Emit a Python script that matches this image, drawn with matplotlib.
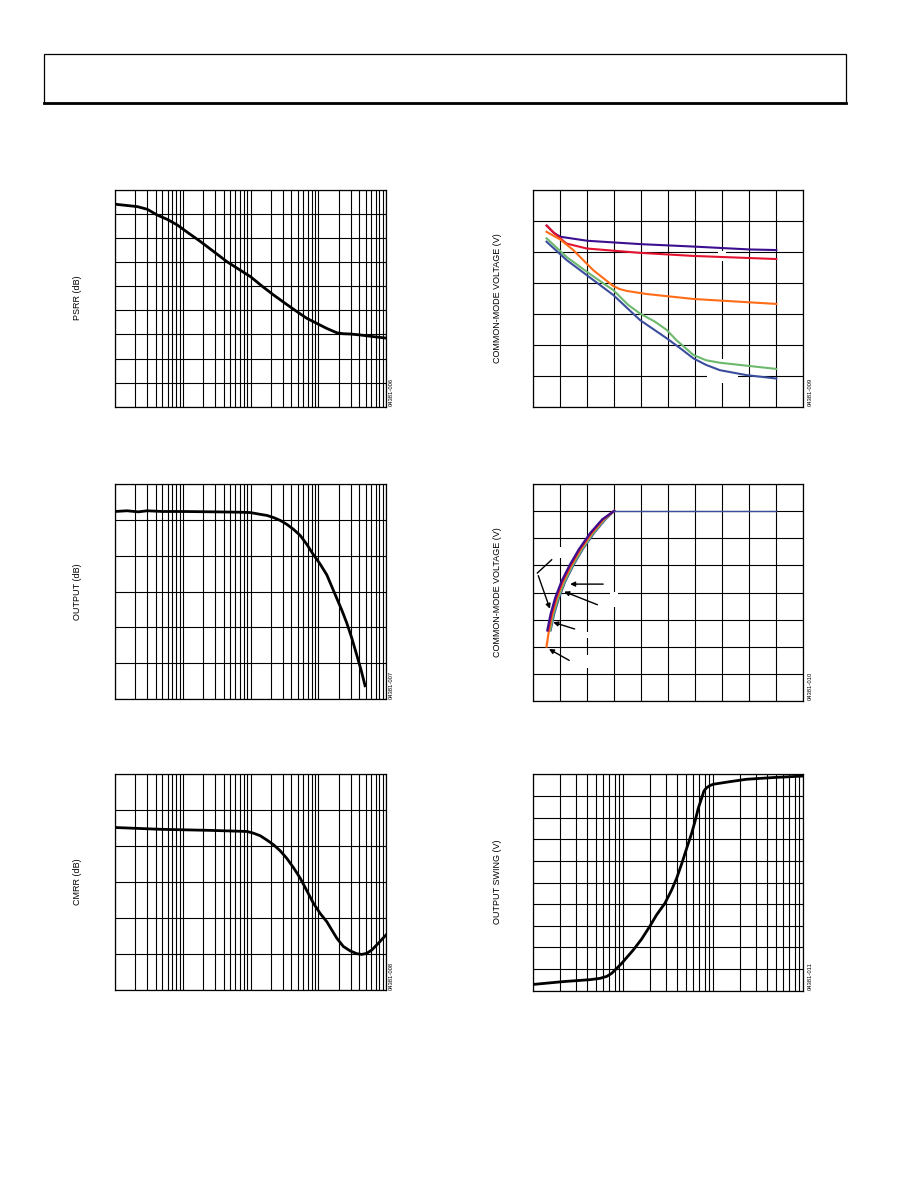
import matplotlib
matplotlib.use("Agg")
import matplotlib.pyplot as plt
from matplotlib.patches import Rectangle
from matplotlib.lines import Line2D

plt.rcParams['font.family'] = ['Liberation Sans', 'DejaVu Sans']

W, H = 918, 1188

# ---------------- data ----------------
# PSRR vs frequency (Hz), y in dB-like units (10 per grid division)
psrr_freq = [1e3, 2133, 2992, 4200, 5900, 8280, 12300, 18240, 28700, 45100, 67000, 1e5,
             1.476e5, 2.19e5, 3.26e5, 4.84e5, 6.79e5, 9.53e5, 1.337e6, 1.88e6, 2.35e6,
             2.95e6, 4.14e6, 6.5e6, 1e7]
psrr_val = [84.1, 83.1, 82.0, 79.6, 77.8, 75.5, 72.0, 68.6, 64.4, 60.2, 57.1, 54.0,
            50.1, 46.4, 42.9, 39.5, 36.7, 34.6, 32.5, 30.7, 30.3,
            30.2, 29.8, 29.1, 28.5]

# Output vs frequency
out_freq = [1e5, 1.5e5, 2.2e5, 3e5, 5e5, 1e6, 3e6, 7.08e6, 9.95e6, 1.396e7, 1.75e7, 2.19e7,
            2.75e7, 3.44e7, 4.32e7, 5.42e7, 6.79e7, 8.51e7, 1.067e8, 1.337e8, 1.585e8,
            1.88e8, 2.22e8, 2.64e8, 3.13e8, 3.70e8, 4.29e8, 4.91e8]
out_val = [52.4, 52.6, 52.3, 52.6, 52.4, 52.4, 52.3, 52.2, 52.1, 51.6, 51.3, 50.7,
           49.9, 48.8, 47.4, 45.7, 43.2, 40.3, 37.7, 34.7, 31.4,
           28.1, 24.9, 21.2, 17.0, 12.3, 8.1, 3.7]

# CMRR vs frequency
cmrr_freq = [1e4, 4.7e4, 2.56e5, 8.87e5, 1.114e6, 1.396e6, 1.75e6, 2.19e6, 2.75e6, 3.44e6,
             4.32e6, 5.42e6, 6.79e6, 8.51e6, 1.067e7, 1.337e7, 1.585e7, 1.88e7, 2.35e7,
             2.95e7, 3.70e7, 4.39e7, 5.19e7, 6.15e7, 7.71e7, 1e8]
cmrr_val = [45.2, 44.7, 44.4, 44.1, 43.6, 42.9, 41.7, 40.4, 38.7, 36.6,
            34.0, 31.1, 27.6, 24.1, 21.3, 19.0, 16.7, 14.4, 12.1,
            10.9, 10.1, 9.9, 10.2, 11.1, 13.0, 15.3]

# Common-mode voltage (top right), five traces
cm1_x = [0.5, 0.75, 1.0, 2.0, 4.0, 6.0, 8.0, 9.0]
cm1_y = [5.85, 5.62, 5.49, 5.36, 5.25, 5.17, 5.08, 5.06]
cm2_x = [0.49, 0.85, 1.23, 1.98, 3.95, 5.93, 9.0]
cm2_y = [5.85, 5.55, 5.27, 5.11, 4.97, 4.87, 4.77]
cm3_x = [0.49, 1.0, 1.48, 2.22, 2.96, 3.2, 3.46, 4.2, 5.93, 9.0]
cm3_y = [5.65, 5.40, 5.06, 4.41, 3.90, 3.80, 3.74, 3.64, 3.48, 3.32]
cm4_x = [0.49, 1.23, 1.98, 2.6, 2.96, 3.5, 3.95, 4.5, 4.94, 5.3, 5.93, 6.4, 6.91, 9.0]
cm4_y = [5.44, 4.84, 4.36, 3.98, 3.77, 3.30, 3.01, 2.75, 2.48, 2.15, 1.67, 1.50, 1.42, 1.22]
cm5_x = [0.49, 1.23, 1.98, 2.96, 3.95, 4.94, 5.5, 5.93, 6.4, 6.91, 7.9, 9.0]
cm5_y = [5.33, 4.74, 4.25, 3.61, 2.80, 2.21, 1.85, 1.56, 1.35, 1.18, 1.02, 0.91]

# Common-mode voltage (middle right), five traces
tr_y = [2.0, 2.6, 3.2, 3.8, 4.4, 5.0, 5.6, 6.2, 6.7, 7.02]
tr1_x = [None, 0.52, 0.64, 0.81, 1.04, 1.34, 1.69, 2.11, 2.55, 3.0]
tr2_x = [None, 0.55, 0.67, 0.84, 1.07, 1.37, 1.72, 2.14, 2.57, 3.0]
tr3_x = [0.49, 0.58, 0.70, 0.87, 1.10, 1.40, 1.75, 2.17, 2.60, 3.0]
tr4_x = [None, 0.62, 0.74, 0.92, 1.15, 1.45, 1.80, 2.22, 2.64, 3.0]
tr5_x = [None, 0.64, 0.77, 0.95, 1.18, 1.48, 1.83, 2.25, 2.67, 3.0]
tr5_flat_x = [3.0, 9.0]
tr5_flat_y = [7.02, 7.02]

# Output swing vs x (log)
sw_x = [1, 2.15, 4.26, 5.51, 6.53, 7.42, 8.43, 9.58, 10.9, 12.9, 16.0, 19.8, 23.4, 29.0,
        34.4, 39.1, 44.5, 50.6, 57.4, 62.5, 68.1, 74.1, 78.7, 84.3, 91.8, 100, 153, 234,
        464, 1000]
sw_y = [0.29, 0.42, 0.51, 0.57, 0.66, 0.80, 1.03, 1.26, 1.53, 1.88, 2.39, 2.99, 3.50, 4.04,
        4.65, 5.19, 5.86, 6.58, 7.27, 7.81, 8.43, 8.89, 9.23, 9.38, 9.48, 9.54, 9.66, 9.77,
        9.85, 9.92]

colors = {'indigo': '#3b0f8f', 'red': '#e3122f', 'orange': '#ff6c17',
          'green': '#6cb86c', 'blue': '#3b4e9e'}

fig = plt.figure(figsize=(W / 100, H / 100), dpi=100)

def ax_px(x0, y0, x1, y1):
    return fig.add_axes([x0 / W, 1 - y1 / H, (x1 - x0) / W, (y1 - y0) / H])

def style(ax, logx=False):
    if logx:
        ax.set_xscale('log')
    ax.grid(True, which='both', color='black', linewidth=0.8)
    ax.set_axisbelow(True)
    ax.tick_params(which='both', length=0, labelleft=False, labelbottom=False)
    for s in ax.spines.values():
        s.set_linewidth(0.9)
        s.set_color('black')

lab_kw = dict(rotation=90, fontsize=6.5, ha='center', va='center')
code_kw = dict(rotation=90, fontsize=4.2, ha='center', va='bottom')

# header box
fig.add_artist(Rectangle((44 / W, 1 - 103 / H), 802 / W, 49 / H, transform=fig.transFigure,
                         fill=False, lw=0.9, ec='black'))
fig.add_artist(Line2D([44 / W, 846 / W], [1 - 103 / H, 1 - 103 / H], transform=fig.transFigure,
                      lw=2.0, color='black'))

# ---- PSRR ----
ax = ax_px(115, 190, 386, 406.7)
style(ax, True)
ax.set_xlim(1e3, 1e7)
ax.set_ylim(0, 90)
ax.set_yticks(range(0, 91, 10))
ax.plot(psrr_freq, psrr_val, color='black', lw=2.0)
fig.text(78 / W, 1 - 298 / H, 'PSRR (dB)', **lab_kw)
fig.text(391 / W, 1 - 406 / H, '04381-006', **code_kw)

# ---- Output ----
ax = ax_px(115, 484.3, 386, 699)
style(ax, True)
ax.set_xlim(1e5, 1e9)
ax.set_ylim(0, 60)
ax.set_yticks(range(0, 61, 10))
ax.plot(out_freq, out_val, color='black', lw=2.0)
fig.text(78 / W, 1 - 592 / H, 'OUTPUT (dB)', **lab_kw)
fig.text(391 / W, 1 - 699 / H, '04381-007', **code_kw)

# ---- CMRR ----
ax = ax_px(115, 774.3, 386, 990)
style(ax, True)
ax.set_xlim(1e4, 1e8)
ax.set_ylim(0, 60)
ax.set_yticks(range(0, 61, 10))
ax.plot(cmrr_freq, cmrr_val, color='black', lw=2.0)
fig.text(78 / W, 1 - 882 / H, 'CMRR (dB)', **lab_kw)
fig.text(391 / W, 1 - 990 / H, '04381-008', **code_kw)

# ---- Common-mode voltage (top right) ----
ax = ax_px(533.3, 190, 803.3, 406.7)
style(ax)
ax.set_xlim(0, 10)
ax.set_ylim(0, 7)
ax.set_xticks(range(0, 11))
ax.set_yticks(range(0, 8))
for (xx, yy, c) in [(cm1_x, cm1_y, 'indigo'), (cm2_x, cm2_y, 'red'), (cm3_x, cm3_y, 'orange'),
                    (cm4_x, cm4_y, 'green'), (cm5_x, cm5_y, 'blue')]:
    ax.plot(xx, yy, color=colors[c], lw=1.5, zorder=3)
# label masks (removed labels)
for (x0, y0, w, h) in [(6.85, 4.72, 0.3, 0.3), (6.85, 0.75, 0.3, 0.78), (6.42, 0.9, 1.17, 0.25)]:
    ax.add_patch(Rectangle((x0, y0), w, h, color='white', zorder=2, lw=0))
fig.text(498 / W, 1 - 298 / H, 'COMMON-MODE VOLTAGE (V)', **lab_kw)
fig.text(810 / W, 1 - 406 / H, '04381-009', **code_kw)

# ---- Common-mode voltage (middle right) ----
ax = ax_px(533.3, 484.3, 803.3, 700.7)
style(ax)
ax.set_xlim(0, 10)
ax.set_ylim(0, 8)
ax.set_xticks(range(0, 11))
ax.set_yticks(range(0, 9))
for (xx, c) in [(tr5_x, 'blue'), (tr4_x, 'green'), (tr3_x, 'orange'), (tr2_x, 'red'), (tr1_x, 'indigo')]:
    pts = [(a, b) for a, b in zip(xx, tr_y) if a is not None]
    ax.plot([p[0] for p in pts], [p[1] for p in pts], color=colors[c], lw=1.6, zorder=3)
ax.plot(tr5_flat_x, tr5_flat_y, color=colors['blue'], lw=1.0, zorder=3)
for (x0, y0, w, h) in [(0.85, 5.27, 0.3, 0.43), (1.85, 2.31, 0.3, 0.24), (1.85, 1.2, 0.3, 0.49),
                       (2.85, 3.48, 0.3, 0.55)]:
    ax.add_patch(Rectangle((x0, y0), w, h, color='white', zorder=2, lw=0))
arr = dict(arrowstyle='-|>', color='black', lw=1.0, mutation_scale=7)
ax.plot([0.68, 0.15], [5.21, 4.72], color='black', lw=1.0, zorder=4)
ax.annotate('', xy=(0.65, 3.30), xytext=(0.15, 4.72), arrowprops=arr, zorder=4)
ax.annotate('', xy=(1.26, 4.31), xytext=(2.69, 4.31), arrowprops=arr, zorder=4)
ax.annotate('', xy=(1.05, 4.07), xytext=(2.47, 3.51), arrowprops=arr, zorder=4)
ax.annotate('', xy=(0.64, 2.93), xytext=(1.63, 2.62), arrowprops=arr, zorder=4)
ax.annotate('', xy=(0.49, 1.96), xytext=(1.42, 1.44), arrowprops=arr, zorder=4)
fig.text(498 / W, 1 - 592 / H, 'COMMON-MODE VOLTAGE (V)', **lab_kw)
fig.text(810 / W, 1 - 700 / H, '04381-010', **code_kw)

# ---- Output swing ----
ax = ax_px(533.3, 774.3, 803.3, 990.7)
style(ax, True)
ax.set_xlim(1, 1000)
ax.set_ylim(0, 10)
ax.set_yticks(range(0, 11))
ax.plot(sw_x, sw_y, color='black', lw=2.0)
fig.text(498 / W, 1 - 882 / H, 'OUTPUT SWING (V)', **lab_kw)
fig.text(810 / W, 1 - 990 / H, '04381-011', **code_kw)

fig.savefig('out.png', dpi=100)
